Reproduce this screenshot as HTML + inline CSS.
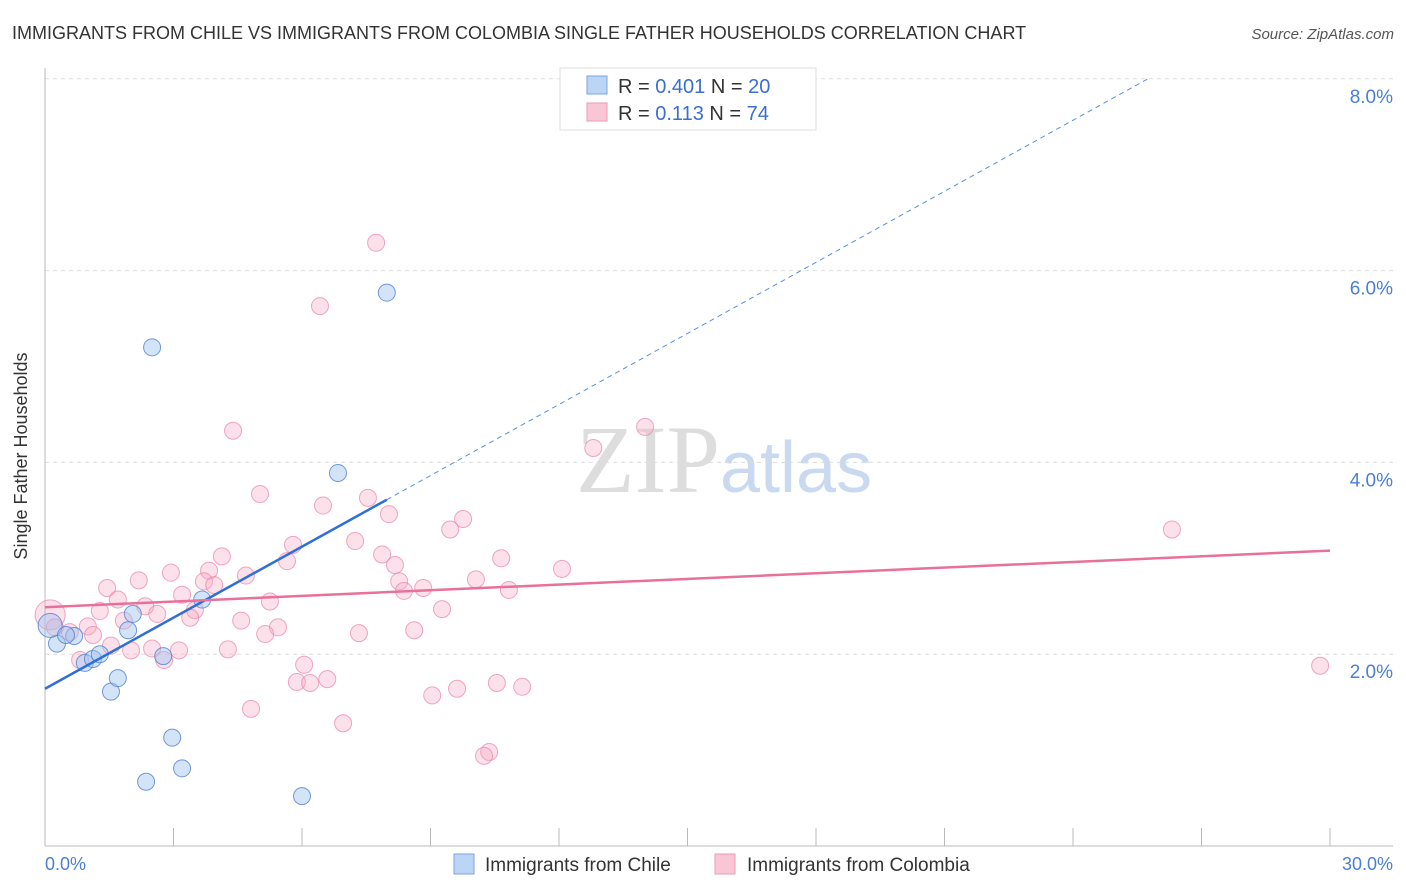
<!DOCTYPE html>
<html><head><meta charset="utf-8"><style>
body{margin:0;background:#fff;font-family:"Liberation Sans",sans-serif}
svg{display:block}
</style></head><body>
<svg width="1406" height="892" xmlns="http://www.w3.org/2000/svg">
<text x="12" y="39" font-size="18" fill="#333">IMMIGRANTS FROM CHILE VS IMMIGRANTS FROM COLOMBIA SINGLE FATHER HOUSEHOLDS CORRELATION CHART</text>
<text x="1394" y="39" font-size="15" fill="#555" font-style="italic" text-anchor="end">Source: ZipAtlas.com</text>
<text x="720" y="492" font-size="96" fill="#ddd" text-anchor="end" font-family="Liberation Serif,serif">ZIP</text>
<text x="720" y="492" font-size="72" fill="#c9d9f0">atlas</text>
<g id="grid"></g>
<line x1="45" y1="68" x2="45" y2="846" stroke="#bbb"/>
<line x1="45" y1="846" x2="1393" y2="846" stroke="#bbb"/>
<g id="ticks"></g>
<text x="27" y="456" font-size="18" fill="#333" text-anchor="middle" transform="rotate(-90 27 456)">Single Father Households</text>
<text x="45" y="870" font-size="18" fill="#4a7fd4">0.0%</text>
<text x="1393" y="870" font-size="18" fill="#4a7fd4" text-anchor="end">30.0%</text>
<g id="pts"></g>
<g id="lines"></g>
<g>
<rect x="560" y="68" width="256" height="62" fill="#fff" stroke="#ddd"/>
<rect x="587" y="76" width="20" height="18" fill="#bcd4f5" stroke="#7aa6e0"/>
<rect x="587" y="103" width="20" height="18" fill="#f9c6d6" stroke="#ee9ab5"/>
<text x="618" y="93" font-size="20" fill="#333">R = <tspan fill="#3a6fd0">0.401</tspan>   N = <tspan fill="#3a6fd0">20</tspan></text>
<text x="618" y="120" font-size="20" fill="#333">R =  <tspan fill="#3a6fd0">0.113</tspan>   N = <tspan fill="#3a6fd0">74</tspan></text>
</g>
<g>
<rect x="454" y="854" width="20" height="20" fill="#bcd4f5" stroke="#7aa6e0"/>
<text x="485" y="871" font-size="19" fill="#333">Immigrants from Chile</text>
<rect x="715" y="854" width="20" height="20" fill="#f9c6d6" stroke="#ee9ab5"/>
<text x="747" y="871" font-size="19" fill="#333">Immigrants from Colombia</text>
</g>
</svg>
<script>
const yTicks=[2,4,6,8];
const yTickLabels=["2.0%","4.0%","6.0%","8.0%"];
const xTicks=[0,3,6,9,12,15,18,21,24,27,30];
const chileX=[2.50,7.98,6.84,0.28,0.68,0.93,1.12,1.28,1.94,2.05,1.54,1.70,2.76,3.67,2.97,3.20,2.36,6.00,0.12,0.49];
const chileY=[5.20,5.77,3.89,2.11,2.19,1.91,1.95,2.00,2.25,2.42,1.61,1.75,1.98,2.57,1.13,0.81,0.67,0.52,2.30,2.20];
const colX=[7.73,6.42,4.39,14.01,12.80,5.02,6.49,7.54,8.03,9.76,9.46,7.24,5.79,4.13,7.87,10.65,5.65,8.17,12.07,2.94,3.83,4.69,2.19,3.71,3.95,8.27,10.06,1.45,8.83,8.38,10.83,3.20,1.70,5.25,2.34,1.28,9.27,2.62,3.50,3.39,4.58,1.84,1.00,5.44,5.14,7.33,8.62,1.12,0.58,1.54,2.50,2.01,3.13,4.27,2.78,0.82,6.05,5.88,6.19,6.59,9.04,9.62,10.55,11.14,4.81,6.96,10.37,10.25,26.31,29.77,0.12,0.23];
const colY=[6.29,5.63,4.33,4.37,4.15,3.67,3.55,3.63,3.46,3.41,3.30,3.18,3.14,3.02,3.04,3.00,2.97,2.93,2.89,2.85,2.87,2.82,2.77,2.76,2.72,2.76,2.78,2.69,2.69,2.66,2.67,2.62,2.57,2.55,2.50,2.45,2.47,2.42,2.46,2.38,2.35,2.35,2.29,2.28,2.21,2.22,2.25,2.20,2.23,2.09,2.06,2.04,2.04,2.05,1.94,1.94,1.89,1.71,1.70,1.74,1.57,1.64,1.70,1.66,1.43,1.28,0.98,0.94,3.30,1.88,2.41,2.28];
const chileFit=[1.64,0.247,7.98];
const colFit=[2.49,3.08];
const X=v=>45+v*(1285/30), Y=v=>846-v*95.9;
const NS="http://www.w3.org/2000/svg";
function mk(p,t,a){const e=document.createElementNS(NS,t);for(const k in a)e.setAttribute(k,a[k]);document.getElementById(p).appendChild(e);return e;}
yTicks.forEach((t,i)=>{
 let l=mk('grid','line',{x1:45,x2:1393,y1:Y(t),y2:Y(t),stroke:'#ddd','stroke-dasharray':'4,4'});
 
 
 let tx=mk('grid','text',{x:1393,y:Y(t)+24,'font-size':19,fill:'#4a7fd4','text-anchor':'end'});
 tx.textContent=yTickLabels[i];
 
 
});
xTicks.forEach(t=>{
 let l=mk('ticks','line',{x1:X(t),x2:X(t),y1:828,y2:846,stroke:'#bbb'});
 
 
});
colX.forEach((v,i)=>{
 let c=mk('pts','circle',{cx:X(v),cy:Y(colY[i]),r:i==70?15:8.5,fill:'rgba(246,170,195,0.35)',stroke:'rgba(235,130,165,0.7)','stroke-width':1});
 
 
});
chileX.forEach((v,i)=>{
 let c=mk('pts','circle',{cx:X(v),cy:Y(chileY[i]),r:i==18?12:8.5,fill:'rgba(160,195,240,0.45)',stroke:'rgba(80,130,210,0.8)','stroke-width':1});
 
 
});
let xEnd=(8-chileFit[0])/chileFit[1];
let d=mk('lines','line',{x1:X(chileFit[2]),y1:Y(chileFit[0]+chileFit[1]*chileFit[2]),x2:X(xEnd),y2:Y(8),stroke:'#5a8fdc','stroke-width':1,'stroke-dasharray':'5,4'});


let b=mk('lines','line',{x1:X(0),y1:Y(chileFit[0]),x2:X(chileFit[2]),y2:Y(chileFit[0]+chileFit[1]*chileFit[2]),stroke:'#2f6fd6','stroke-width':2.5});


let p=mk('lines','line',{x1:X(0),y1:Y(colFit[0]),x2:X(30),y2:Y(colFit[1]),stroke:'#e8709a','stroke-width':2.5});


</script>
</body></html>
